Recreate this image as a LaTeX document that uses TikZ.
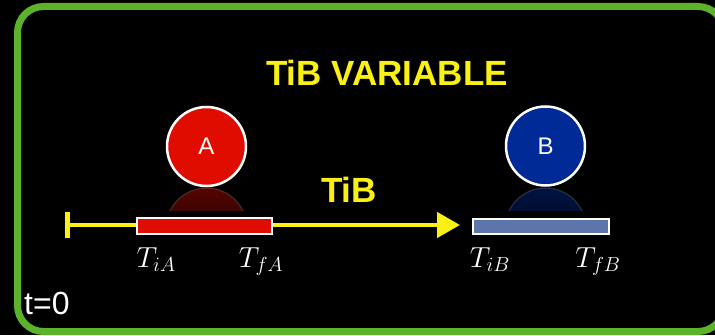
\documentclass[tikz,border=0pt]{standalone}
\usepackage{fix-cm}
\usepackage{fontspec}
\newfontfamily\lsans{Liberation Sans}
\usetikzlibrary{arrows.meta}
\definecolor{frameg}{RGB}{92,178,42}
\definecolor{ylw}{RGB}{250,240,20}
\definecolor{redA}{RGB}{225,12,0}
\definecolor{blueB}{RGB}{0,42,150}
\definecolor{barBc}{RGB}{92,118,172}
\begin{document}
\begin{tikzpicture}[x=1pt,y=1pt,
  ball/.style={circle, draw=white, line width=2.5pt, minimum size=79pt, inner sep=0pt, text=white, font=\lsans\fontsize{24}{24}\selectfont},
  barbox/.style={rectangle, draw=white, line width=2.2pt, inner sep=0pt},
  ttl/.style={text=ylw, font=\lsans\bfseries\fontsize{35}{37}\selectfont, inner sep=0pt, anchor=base},
  tlab/.style={text=white, font=\fontsize{29}{32}\selectfont, inner sep=0pt, anchor=base},
  axisline/.style={ylw, line width=4.5pt, {Bar[width=26pt, line width=5pt]}-{Triangle[length=23pt,width=25pt]}}
]
\useasboundingbox (0,0) rectangle (715,335);
\fill[black] (0,0) rectangle (715,335);
\draw[frameg, line width=7pt, rounded corners=26pt] (17.5,3.5) rectangle (724,328.5);

\node[ttl] (title) at (387,249) {TiB VARIABLE};
\node[ttl] (tib) at (349,132) {TiB};

\coordinate (start) at (65,110);
\coordinate (tip) at (460,110);
\draw[axisline] (start) -- (tip);

\node[barbox, fill=redA, minimum width=135pt, minimum height=16pt] (barA) at (204.5,109) {};
\node[barbox, fill=barBc, minimum width=136pt, minimum height=15pt] (barB) at (541,108.5) {};

% reflections
\begin{scope}
  \clip (160,124) rectangle (253,147);
  \shade[top color=redA!38!black, middle color=black, bottom color=black] (206.5,106.5) circle (40.5);
  \draw[white, opacity=0.15, line width=1.2pt] (206.5,106.5) circle (40.5);
\end{scope}
\begin{scope}
  \clip (499,124) rectangle (592,147);
  \shade[top color=blueB!45!black, middle color=black, bottom color=black] (545.5,106.5) circle (40.5);
  \draw[white, opacity=0.15, line width=1.2pt] (545.5,106.5) circle (40.5);
\end{scope}

\node[ball, fill=redA] (A) at (206.5,188.5) {A};
\node[ball, fill=blueB] (B) at (545.5,189) {B};

\node[tlab] (tiA) at (156,68) {$T_{iA}$};
\node[tlab] (tfA) at (261,68) {$T_{fA}$};
\node[tlab] (tiB) at (490,68) {$T_{iB}$};
\node[tlab] (tfB) at (598,68) {$T_{fB}$};

\node[text=white, font=\lsans\fontsize{32}{34}\selectfont, inner sep=0pt, anchor=base west] (t0) at (24,21) {t=0};
\end{tikzpicture}
\end{document}
